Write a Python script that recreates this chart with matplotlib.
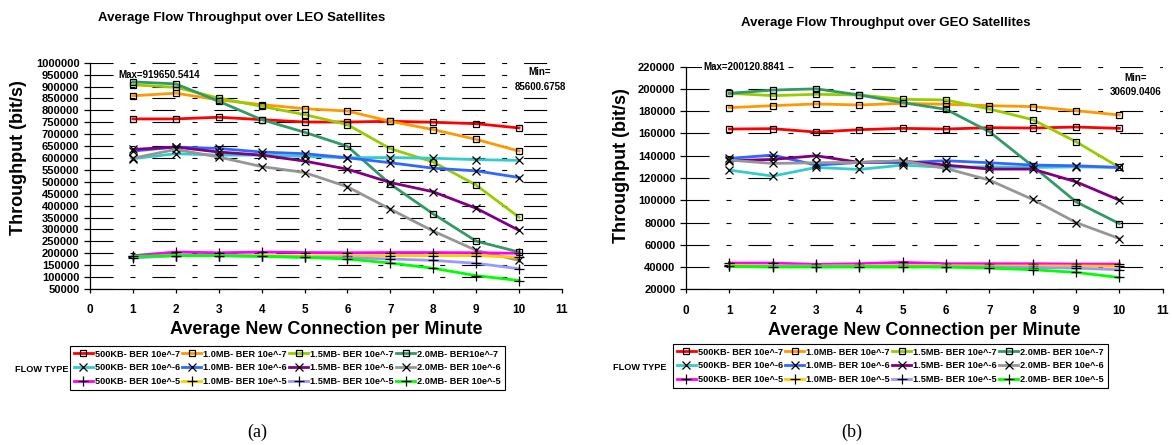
import numpy as np
import matplotlib.pyplot as plt

plt.rcParams['font.family'] = ['Liberation Sans', 'DejaVu Sans']
plt.rcParams['font.weight'] = 'bold'
plt.rcParams['lines.scale_dashes'] = False

#%% data
conn = [1, 2, 3, 4, 5, 6, 7, 8, 9, 10]

# LEO, rows = 500KB, 1.0MB, 1.5MB, 2.0MB
leo_ber7 = [[764000, 764000, 771000, 761000, 751000, 751000, 754000, 750000, 744000, 726000],
            [861000, 872000, 844000, 824000, 807000, 797000, 754000, 719000, 678000, 629000],
            [907000, 897000, 851000, 817000, 782000, 740000, 639000, 583000, 486000, 351000],
            [919651, 911000, 838000, 761000, 708000, 649000, 490000, 365000, 251000, 205000]]
leo_ber6 = [[597000, 618000, 612000, 612000, 607000, 601000, 602000, 599000, 593000, 590000],
            [629000, 646000, 640000, 625000, 618000, 601000, 580000, 557000, 546000, 518000],
            [636000, 646000, 625000, 612000, 587000, 553000, 497000, 458000, 389000, 296000],
            [599000, 636000, 604000, 564000, 539000, 479000, 385000, 293000, 212000, 170000]]
leo_ber5 = [[190000, 205000, 202000, 205000, 203000, 202000, 203000, 203000, 202000, 200000],
            [185000, 190000, 190000, 190000, 188000, 188000, 190000, 190000, 190000, 183000],
            [180000, 190000, 190000, 187000, 183000, 181000, 176000, 170000, 158000, 135000],
            [187000, 190000, 190000, 187000, 183000, 176000, 159000, 137000, 106000, 85601]]

# GEO, rows = 500KB, 1.0MB, 1.5MB, 2.0MB
geo_ber7 = [[164000, 164300, 161300, 163400, 164600, 164000, 165200, 164900, 165800, 164600],
            [183200, 185000, 186500, 185600, 187100, 186200, 185000, 184100, 180500, 176600],
            [196100, 194000, 195200, 194600, 190700, 190100, 182000, 172400, 152600, 129500],
            [196100, 199000, 200121, 194600, 187700, 181700, 161600, 130700, 98600, 79000]]
geo_ber6 = [[127100, 121700, 129500, 127700, 131600, 129500, 130100, 129500, 130000, 129500],
            [137600, 140600, 131600, 134000, 133700, 135500, 133700, 131600, 131000, 129500],
            [135500, 136700, 140000, 134000, 135200, 131600, 128000, 128000, 116600, 100100],
            [136100, 133100, 133700, 134000, 135500, 128600, 118100, 100700, 80000, 65600]]
geo_ber5 = [[43600, 43600, 42400, 43000, 44200, 43000, 43000, 43000, 42700, 42700],
            [41500, 41000, 41000, 41200, 41500, 41200, 41000, 41000, 41000, 40600],
            [40600, 40600, 40600, 40600, 40600, 40300, 40000, 39500, 39000, 37600],
            [40600, 40000, 40000, 40000, 40000, 40000, 39000, 37600, 35200, 30609]]

leo_labels = ['500KB- BER 10e^-7', '1.0MB- BER 10e^-7', '1.5MB- BER 10e^-7', '2.0MB- BER10e^-7',
              '500KB- BER 10e^-6', '1.0MB- BER 10e^-6', '1.5MB- BER 10e^-6', '2.0MB- BER 10e^-6',
              '500KB- BER 10e^-5', '1.0MB- BER 10e^-5', '1.5MB- BER 10e^-5', '2.0MB- BER 10e^-5']
geo_labels = ['500KB- BER 10e^-7', '1.0MB- BER 10e^-7', '1.5MB- BER 10e^-7', '2.0MB- BER 10e^-7',
              '500KB- BER 10e^-6', '1.0MB- BER 10e^-6', '1.5MB- BER 10e^-6', '2.0MB- BER 10e^-6',
              '500KB- BER 10e^-5', '1.0MB- BER 10e^-5', '1.5MB- BER 10e^-5', '2.0MB- BER 10e^-5']

leo_max, leo_min = '919650.5414', '85600.6758'
geo_max, geo_min = '200120.8841', '30609.0406'

#%% style
colors = ['#FF0000', '#FF9900', '#99CC00', '#339966',
          '#33CCCC', '#3366FF', '#800080', '#969696',
          '#FF00FF', '#FFCC00', '#9999FF', '#00FF00']
markers = ['s'] * 4 + ['x'] * 4 + ['+'] * 4
msizes = {'s': 4.5, 'x': 6, '+': 7}
grid_dash = (0, (16.6, 12.2, 3.6, 12.2))

fig = plt.figure(figsize=(11.72, 4.45), dpi=100, facecolor='w')


def draw(rect, groups, labels, ymin, ymax, ystep, title, title_xy,
         ylab_xy, xlab_y, maxtxt, max_xy, mintxt, min_xy, leg_xy, flow_xy, tag, tag_xy):
    ax = fig.add_axes(rect)
    series = groups[0] + groups[1] + groups[2]
    handles = []
    for i, vals in enumerate(series):
        mk = markers[i]
        h, = ax.plot(conn, vals, color=colors[i], lw=2, marker=mk, ms=msizes[mk],
                     mfc='none', mec='k', mew=0.9, label=labels[i], zorder=3)
        handles.append(h)
    ax.set_xlim(0, 11)
    ax.set_ylim(ymin, ymax)
    ax.set_xticks(np.arange(0, 12))
    ax.set_yticks(np.arange(ymin, ymax + 1, ystep))
    ax.ticklabel_format(axis='y', style='plain', useOffset=False)
    ax.spines['top'].set_visible(False)
    ax.spines['right'].set_visible(False)
    ax.spines['left'].set_linewidth(0.9)
    ax.spines['bottom'].set_linewidth(0.9)
    ax.tick_params(axis='y', direction='out', length=4, width=0.9, pad=3.6, labelsize=8)
    ax.tick_params(axis='x', direction='out', length=3, width=0.9, pad=8, labelsize=8.5)
    for t in ax.get_xticklabels() + ax.get_yticklabels():
        t.set_fontweight('bold')
    ax.grid(axis='y', color='k', lw=0.8, linestyle=grid_dash, zorder=0)
    ax.set_axisbelow(True)
    ax.set_ylabel('Throughput (bit/s)', fontsize=13, fontweight='bold', va='center')
    ax.yaxis.set_label_coords(*ylab_xy)
    ax.set_xlabel('Average New Connection per Minute', fontsize=13, fontweight='bold', va='center')
    ax.xaxis.set_label_coords(0.5, xlab_y)
    box = dict(facecolor='w', edgecolor='none', pad=1)
    ax.text(max_xy[0], max_xy[1], 'Max=' + maxtxt, fontsize=7, fontweight='bold',
            ha='center', va='center', bbox=box, zorder=2)
    ax.text(min_xy[0], min_xy[1], 'Min=\n' + mintxt, fontsize=7, fontweight='bold',
            ha='center', va='center', bbox=box, zorder=2, linespacing=1.6)
    fig.text(title_xy[0], title_xy[1], title, fontsize=9.5, fontweight='bold',
             ha='center', va='center')
    # legend is filled column by column, so reorder to get rows by BER
    order = [0, 4, 8, 1, 5, 9, 2, 6, 10, 3, 7, 11]
    leg = fig.legend([handles[k] for k in order], [labels[k] for k in order],
                     loc='upper left', bbox_to_anchor=leg_xy, ncol=4, fontsize=6.6,
                     handlelength=2.1, handletextpad=0.2, columnspacing=0.25,
                     borderpad=0.4, labelspacing=0.5, fancybox=False, framealpha=1,
                     borderaxespad=0)
    leg.get_frame().set_edgecolor('k')
    leg.get_frame().set_linewidth(0.8)
    for t in leg.get_texts():
        t.set_fontweight('bold')
    fig.text(flow_xy[0], flow_xy[1], 'FLOW TYPE', fontsize=6.6, fontweight='bold',
             ha='center', va='center')
    fig.text(tag_xy[0], tag_xy[1], tag, fontsize=13, family='Liberation Serif',
             fontweight='normal', ha='center', va='center')
    return ax


W, H = 1172.0, 445.0
draw([90 / W, 1 - 289 / H, 472 / W, 226.3 / H], [leo_ber7, leo_ber6, leo_ber5], leo_labels,
     50000, 1000000, 50000, 'Average Flow Throughput over LEO Satellites', (242 / W, 1 - 18 / H),
     (-0.151, 0.58), -0.181, leo_max, (1.62, 950000), leo_min, (10.49, 930700),
     (70 / W, 1 - 346 / H), (42 / W, 1 - 369 / H), '(a)', (257 / W, 1 - 432 / H))
draw([686 / W, 1 - 289.3 / H, 476.7 / W, 222.6 / H], [geo_ber7, geo_ber6, geo_ber5], geo_labels,
     20000, 220000, 20000, 'Average Flow Throughput over GEO Satellites', (886 / W, 1 - 23 / H),
     (-0.135, 0.555), -0.187, geo_max, (1.34, 220000), geo_min, (10.37, 203500),
     (673 / W, 1 - 344 / H), (640 / W, 1 - 367 / H), '(b)', (852 / W, 1 - 432 / H))

plt.savefig('out.png', dpi=100)
